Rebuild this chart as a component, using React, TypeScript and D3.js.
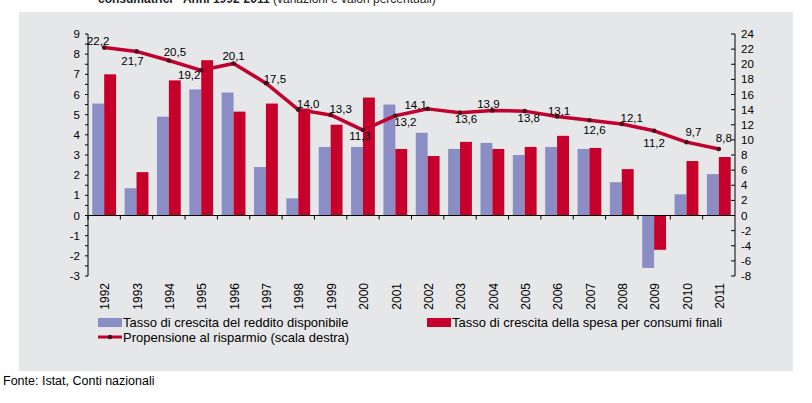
import * as d3 from "d3";

const years = ["1992", "1993", "1994", "1995", "1996", "1997", "1998", "1999", "2000", "2001", "2002", "2003", "2004", "2005", "2006", "2007", "2008", "2009", "2010", "2011"];
const redditoGrowth = [5.55, 1.35, 4.9, 6.25, 6.1, 2.4, 0.85, 3.4, 3.4, 5.5, 4.1, 3.3, 3.6, 3.0, 3.4, 3.3, 1.65, -2.6, 1.05, 2.05];
const spesaGrowth = [7.0, 2.15, 6.7, 7.7, 5.15, 5.55, 5.3, 4.5, 5.85, 3.3, 2.95, 3.65, 3.3, 3.4, 3.95, 3.35, 2.3, -1.7, 2.7, 2.9];
const propensione = [22.2, 21.7, 20.5, 19.2, 20.1, 17.5, 14.0, 13.3, 11.3, 13.2, 14.1, 13.6, 13.9, 13.8, 13.1, 12.6, 12.1, 11.2, 9.7, 8.8];
// label offset from the marker, [dx, dy]
const labelOffsets = [
  [-6, -3], [-4, 14], [6, -4], [-12, 9], [0, -3], [9, 0], [10, -2], [10, -2], [-3, 10], [10, 10],
  [-12, 0], [6, 10], [-4, -2], [4, 11], [2, -1], [5, 14], [10, -2], [0, 16], [7, -6], [5, -7],
];

const leftTicks = d3.range(-3, 10);
const rightTicks = d3.range(-8, 26, 2);

const legendNames = [
  "Tasso di crescita del reddito disponibile",
  "Tasso di crescita della spesa per consumi finali",
  "Propensione al risparmio (scala destra)",
];

const BLUE = "#8a8ec4";
const RED = "#c6002b";
const LINE = "#c0002e";
const FONT = "'Liberation Sans', Arial, sans-serif";

const PLOT = { left: 88, right: 735, top: 34, bottom: 276 };

const fmt = (v: number) => v.toFixed(1).replace(".", ",");

export default function App() {
  const x = d3.scaleBand().domain(years).range([PLOT.left, PLOT.right]);
  const inner = d3.scaleBand().domain(["r", "s"]).range([0, x.bandwidth()]).paddingOuter(0.36);
  const yL = d3.scaleLinear().domain([-3, 9]).range([PLOT.bottom, PLOT.top]);
  const yR = d3.scaleLinear().domain([-8, 24]).range([PLOT.bottom, PLOT.top]);

  const cx = (d: string) => (x(d) || 0) + x.bandwidth() / 2;
  const line = d3
    .line<number>()
    .x((_, i) => cx(years[i]))
    .y((d) => yR(d));

  const bar = (vals: number[], key: string, color: string) =>
    vals.map((v, i) => (
      <rect
        key={key + i}
        x={(x(years[i]) || 0) + (inner(key) || 0)}
        y={Math.min(yL(v), yL(0))}
        width={inner.bandwidth()}
        height={Math.abs(yL(v) - yL(0))}
        fill={color}
      />
    ));

  return (
    <div style={{ position: "absolute", left: 0, top: 0 }}>
      <svg width={812} height={403} style={{ display: "block", fontFamily: FONT }}>
        <rect width={812} height={403} fill="#fff" />
        <text x={98} y={3} fontSize={12} fill="#222">
          <tspan fontWeight="bold">consumatrici - Anni 1992-2011</tspan>
          <tspan> (variazioni e valori percentuali)</tspan>
        </text>
        <rect x={19} y={12} width={774} height={359} fill="#e6e7e8" />

        {bar(redditoGrowth, "r", BLUE)}
        {bar(spesaGrowth, "s", RED)}

        {/* left axis */}
        <line x1={PLOT.left} x2={PLOT.left} y1={PLOT.top} y2={PLOT.bottom} stroke="#000" />
        {d3.range(-3, 9.01, 0.5).map((t) => (
          <line key={"lt" + t} x1={PLOT.left - 3} x2={PLOT.left} y1={yL(t)} y2={yL(t)} stroke="#000" />
        ))}
        {leftTicks.map((t) => (
          <text key={"ll" + t} x={PLOT.left - 8} y={yL(t)} dy="0.35em" fontSize={11.5} textAnchor="end" fill="#000">
            {t}
          </text>
        ))}

        {/* right axis */}
        <line x1={PLOT.right} x2={PLOT.right} y1={PLOT.top} y2={PLOT.bottom} stroke="#000" />
        {rightTicks.map((t) => (
          <g key={"r" + t}>
            <line x1={PLOT.right - 4} x2={PLOT.right} y1={yR(t)} y2={yR(t)} stroke="#000" />
            <text x={PLOT.right + 6} y={yR(t)} dy="0.35em" fontSize={11.5} fill="#000">
              {t}
            </text>
          </g>
        ))}

        {/* category axis at zero */}
        <line x1={PLOT.left} x2={PLOT.right} y1={yL(0)} y2={yL(0)} stroke="#000" strokeWidth={1.2} />
        {years.map((d) => (
          <g key={"x" + d}>
            <line x1={x(d) || 0} x2={x(d) || 0} y1={yL(0)} y2={yL(0) + 4} stroke="#000" />
            <text
              transform={`translate(${cx(d) + 1},${PLOT.bottom + 7}) rotate(-90)`}
              dy="0.35em"
              fontSize={12}
              textAnchor="end"
              fill="#000"
            >
              {d}
            </text>
          </g>
        ))}

        {/* savings line */}
        <path d={line(propensione) || ""} fill="none" stroke={LINE} strokeWidth={3.5} strokeLinejoin="round" />
        {propensione.map((v, i) => (
          <circle key={"m" + i} cx={cx(years[i])} cy={yR(v)} r={2.3} fill="#4a1018" />
        ))}
        {propensione.map((v, i) => (
          <text
            key={"lab" + i}
            x={cx(years[i]) + labelOffsets[i][0]}
            y={yR(v) + labelOffsets[i][1]}
            fontSize={11.5}
            textAnchor="middle"
            fill="#000"
          >
            {fmt(v)}
          </text>
        ))}

        {/* legend */}
        <rect x={98} y={318} width={24} height={9} fill={BLUE} />
        <text x={123} y={327} fontSize={13} fill="#000">{legendNames[0]}</text>
        <rect x={427} y={318} width={24} height={9} fill={RED} />
        <text x={452} y={327} fontSize={13} fill="#000">{legendNames[1]}</text>
        <line x1={98} x2={122} y1={337} y2={337} stroke={LINE} strokeWidth={3} />
        <circle cx={110} cy={337} r={2.3} fill="#4a1018" />
        <text x={123} y={342} fontSize={13} fill="#000">{legendNames[2]}</text>

        <text x={3} y={385} fontSize={12.5} fill="#000">Fonte: Istat, Conti nazionali</text>
      </svg>
    </div>
  );
}
